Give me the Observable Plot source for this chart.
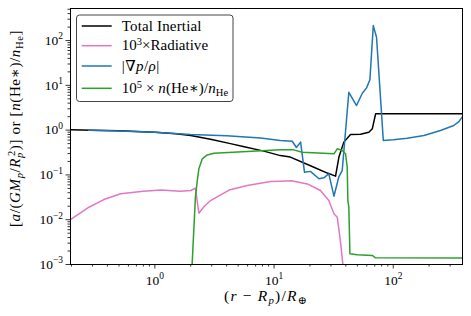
<!DOCTYPE html>
<html>
<head>
<meta charset="utf-8">
<script src="https://cdn.jsdelivr.net/npm/d3@7"></script>
<script src="https://cdn.jsdelivr.net/npm/@observablehq/plot@0.6"></script>
<style>
  html, body { margin: 0; padding: 0; background: white; }
</style>
</head>
<body>
<div id="chart"></div>
<script>
// ---- Data ----
const inertialX = [0.196, 0.3, 0.5, 1.0, 1.5, 2.0, 3.0, 4.3, 5.5, 8.2, 11.3, 13.7, 20.2, 28, 32.8, 35, 38.5, 43.8, 53.2, 62.4, 66.7, 71.1, 381];
const inertialY = [1.02, 1.0, 0.97, 0.9, 0.83, 0.76, 0.62, 0.5, 0.43, 0.34, 0.27, 0.25, 0.16, 0.11, 0.094, 0.25, 0.54, 0.8, 0.81, 0.9, 1.07, 2.31, 2.31];

const radiativeX = [0.196, 0.28, 0.373, 0.517, 0.8, 1.12, 1.64, 2.0, 2.19, 2.34, 2.6, 2.93, 4.2, 5.96, 9.34, 11.3, 14, 19, 24.5, 28.8, 31.8, 33.9, 36, 37.8, 38.5];
const radiativeY = [0.0101, 0.019, 0.0282, 0.038, 0.043, 0.046, 0.043, 0.045, 0.0505, 0.014, 0.02, 0.0268, 0.046, 0.058, 0.071, 0.0724, 0.074, 0.063, 0.045, 0.0268, 0.0136, 0.0114, 0.0034, 0.001, 0.0006];

const gradPX = [0.278, 0.5, 1.0, 2.0, 4.0, 7.7, 11.3, 14.2, 15.4, 16.7, 18.0, 20.2, 23.8, 26.2, 28.8, 31.8, 35, 37.3, 42.4, 49.2, 55, 59.7, 63.7, 68, 72.4, 82.5, 100, 131, 181, 249, 322, 355, 381];
const gradPY = [1.0, 0.96, 0.9, 0.8, 0.75, 0.67, 0.59, 0.565, 0.41, 0.54, 0.115, 0.12, 0.082, 0.086, 0.106, 0.0335, 0.092, 0.125, 7.0, 3.54, 6.67, 8.8, 13.3, 216, 119, 0.59, 0.61, 0.66, 0.76, 0.98, 1.27, 1.55, 2.0];

const heliumX = [2.05, 2.12, 2.19, 2.27, 2.34, 2.5, 2.75, 3.13, 5.96, 11.3, 14.6, 17.2, 31.8, 33.9, 37.3, 39.8, 41.1, 41.6, 42.4, 43.3, 49.9, 66.7, 71, 381];
const heliumY = [0.0009, 0.0057, 0.032, 0.075, 0.137, 0.229, 0.28, 0.305, 0.333, 0.363, 0.363, 0.32, 0.296, 0.383, 0.35, 0.296, 0.149, 0.0268, 0.019, 0.00174, 0.00165, 0.00159, 0.00141, 0.0014];

const xMajorTicks = [1, 10, 100];
const yMajorTicks = [1e-3, 1e-2, 1e-1, 1, 10, 100];
const xDomain = [0.196, 381];
const yDomain = [1e-3, 520];

const seriesNames = ["Total Inertial", "Radiative", "GradP", "Helium"];
const seriesColors = ["#000000", "#e377c2", "#1f77b4", "#2ca02c"];

// minor log ticks (2..9 × 10^k) inside a domain
function minorTicks([lo, hi]) {
  const out = [];
  for (let e = Math.floor(Math.log10(lo)); e <= Math.ceil(Math.log10(hi)); e++)
    for (let m = 2; m <= 9; m++) { const v = m * 10 ** e; if (v >= lo && v <= hi) out.push(v); }
  return out;
}
const toRows = (xs, ys) => xs.map((x, i) => ({x, y: ys[i]}));
const fmt = d => "10^" + Math.round(Math.log10(d));

const FONT = "'Liberation Serif', 'DejaVu Serif', serif";

const chart = Plot.plot({
  width: 471, height: 316,
  marginLeft: 70, marginRight: 9, marginTop: 8, marginBottom: 52,
  style: {fontFamily: FONT, fontSize: "13.5px", background: "white", color: "black"},
  x: {type: "log", domain: xDomain},
  y: {type: "log", domain: yDomain},
  marks: [
    Plot.axisX({ticks: minorTicks(xDomain), tickSize: 2.5, tickFormat: () => "", label: null, strokeWidth: 0.8}),
    Plot.axisX({ticks: xMajorTicks, tickSize: 4.5, tickPadding: 6.2, tickFormat: fmt, label: null, strokeWidth: 0.8}),
    Plot.axisY({ticks: minorTicks(yDomain), tickSize: 2.5, tickFormat: () => "", label: null, strokeWidth: 0.8}),
    Plot.axisY({ticks: yMajorTicks, tickSize: 4.5, tickPadding: 3, tickFormat: fmt, label: null, strokeWidth: 0.8}),
    Plot.line(toRows(inertialX, inertialY), {x: "x", y: "y", stroke: seriesColors[0], strokeWidth: 1.5, clip: true}),
    Plot.line(toRows(radiativeX, radiativeY), {x: "x", y: "y", stroke: seriesColors[1], strokeWidth: 1.5, clip: true}),
    Plot.line(toRows(gradPX, gradPY), {x: "x", y: "y", stroke: seriesColors[2], strokeWidth: 1.5, clip: true}),
    Plot.line(toRows(heliumX, heliumY), {x: "x", y: "y", stroke: seriesColors[3], strokeWidth: 1.5, clip: true}),
    Plot.frame({stroke: "black", strokeWidth: 1})
  ]
});
document.getElementById("chart").appendChild(chart);

const svg = d3.select(chart);

// rewrite "10^k" tick labels as real superscripts
svg.selectAll("text").each(function () {
  const t = this.textContent;
  const m = /^10\^(-?\d+)$/.exec(t);
  if (!m) return;
  const sel = d3.select(this);
  sel.selectAll("*").remove();
  sel.text(null);
  sel.append("tspan").text("10");
  sel.append("tspan").attr("font-size", "70%").attr("dy", -5.5).text(m[1].replace("-", "\u2212"));
});

// math-like text builder
function mathText(sel, parts) {
  let cur = 0;
  for (const p of parts) {
    const [t, o] = typeof p === "string" ? [p, {}] : p;
    const target = o.s === "sub" ? 3 : o.s === "sup" ? -5 : 0;
    const ts = sel.append("tspan").text(t);
    if (o.i) ts.attr("font-style", "italic");
    if (o.s) ts.attr("font-size", "70%");
    if (target !== cur) ts.attr("dy", target - cur);
    if (o.dx) ts.attr("dx", o.dx);
    cur = target;
  }
}
// widen text slightly (Computer Modern is wider than Times) by letter spacing
function fitWidth(sel, target) {
  const node = sel.node();
  const w = node.getBBox().width;
  const n = node.textContent.length;
  if (w > 0 && n > 0) sel.attr("letter-spacing", Math.max(-0.5, Math.min(1.5, (target - w) / n)));
}

// axis labels
const xl = svg.append("text").attr("x", 266).attr("y", 301).attr("text-anchor", "middle")
  .attr("font-family", FONT).attr("font-size", 15.5);
mathText(xl, ["(", ["r", {i: 1}], " \u2212 ", ["R", {i: 1}], ["p", {i: 1, s: "sub"}], ")/", ["R", {i: 1}], ["\u2295", {s: "sub"}]]);
fitWidth(xl, 84);

const yl = svg.append("text").attr("transform", "translate(20,128.5) rotate(-90)").attr("text-anchor", "middle")
  .attr("font-family", FONT).attr("font-size", 15);
mathText(yl, ["[", ["a", {i: 1}], "/(", ["GM", {i: 1}], ["p", {i: 1, s: "sub"}], "/", ["R", {i: 1}], ["p", {i: 1, s: "sub"}], ["2", {s: "sup", dx: -4}], ")] or [", ["n", {i: 1}], "(He\u2217)/", ["n", {i: 1}], ["He", {s: "sub"}], "]"]);
fitWidth(yl, 197);

// legend
const lg = svg.append("g");
lg.append("rect").attr("x", 76.5).attr("y", 15).attr("width", 156.5).attr("height", 86.5)
  .attr("rx", 3).attr("fill", "white").attr("fill-opacity", 0.85).attr("stroke", "#444").attr("stroke-width", 1);
const legendRows = [
  [seriesNames[0]],
  ["10", ["3", {s: "sup"}], "\u00d7Radiative"],
  ["|\u2207", ["p", {i: 1}], "/", ["\u03c1", {i: 1}], "|"],
  ["10", ["5", {s: "sup"}], " \u00d7 ", ["n", {i: 1}], "(He\u2217)/", ["n", {i: 1}], ["He", {s: "sub"}]]
];
const legendWidths = [80, 86.7, 38, 106.7];
const rowY = [26, 45.7, 66, 88.3];
legendRows.forEach((parts, i) => {
  lg.append("line").attr("x1", 81.7).attr("x2", 111.7).attr("y1", rowY[i]).attr("y2", rowY[i])
    .attr("stroke", seriesColors[i]).attr("stroke-width", 1.5);
  const t = lg.append("text").attr("x", 121.7).attr("y", rowY[i] + 4.6).attr("text-anchor", "start")
    .attr("font-family", FONT).attr("font-size", 15);
  mathText(t, parts);
  fitWidth(t, legendWidths[i]);
});
</script>
</body>
</html>
